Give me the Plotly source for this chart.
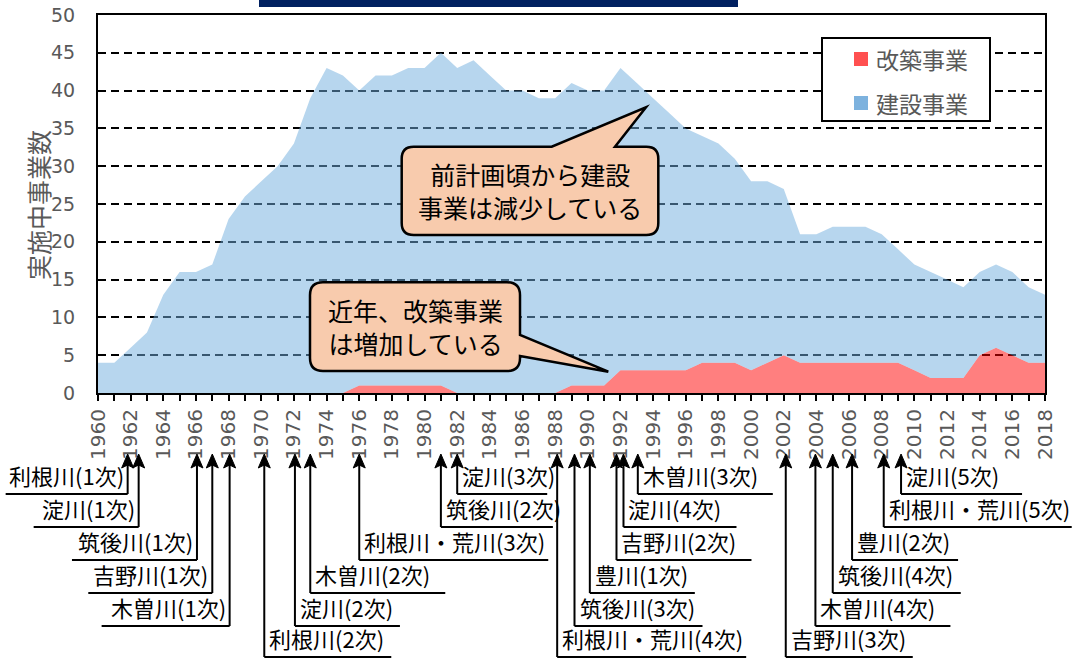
import plotly.graph_objects as go

# data
years = list(range(1960, 2019))
kaichiku = [0, 0, 0, 0, 0, 0, 0, 0, 0, 0,
            0, 0, 0, 0, 0, 0, 1, 1, 1, 1,
            1, 1, 0, 0, 0, 0, 0, 0, 0, 1,
            1, 1, 3, 3, 3, 3, 3, 4, 4, 4,
            3, 4, 5, 4, 4, 4, 4, 4, 4, 4,
            3, 2, 2, 2, 5, 6, 5, 4, 4]
kensetsu = [4, 4, 6, 8, 13, 16, 16, 17, 23, 26,
            28, 30, 33, 39, 43, 42, 39, 41, 41, 42,
            42, 44, 43, 44, 42, 40, 40, 39, 39, 40,
            39, 39, 40, 38, 36, 34, 32, 30, 29, 27,
            25, 24, 22, 17, 17, 18, 18, 18, 17, 15,
            14, 14, 13, 12, 11, 11, 11, 10, 9]

plans = ["利根川(1次)", "淀川(1次)", "筑後川(1次)", "吉野川(1次)", "木曽川(1次)",
         "利根川(2次)", "淀川(2次)", "木曽川(2次)", "利根川・荒川(3次)", "筑後川(2次)",
         "淀川(3次)", "利根川・荒川(4次)", "筑後川(3次)", "豊川(1次)", "吉野川(2次)",
         "淀川(4次)", "木曽川(3次)", "吉野川(3次)", "木曽川(4次)", "筑後川(4次)",
         "豊川(2次)", "利根川・荒川(5次)", "淀川(5次)"]
plan_years = [1962, 1962, 1966, 1967, 1968, 1970, 1972, 1973, 1976, 1981, 1982,
              1988, 1989, 1990, 1992, 1992, 1993, 2002, 2004, 2005, 2006, 2008, 2009]

# label layout (pixels)
nudge = [-3, 8, 1, 0, 1, 3, 1, 0, 0, 0, 0, 2, 3, 2, -4, 3, 1, 2, -1, 0, 3, 2, 3]
row = [0, 1, 2, 3, 4, 5, 4, 3, 2, 1, 0, 5, 4, 3, 2, 1, 0, 5, 4, 3, 2, 1, 0]
line_len = [122, 105, 125, 124, 128, 127, 105, 135, 189, 112, 90,
            189, 128, 105, 135, 113, 135, 127, 135, 128, 106, 188, 121]
row_y = [494, 527, 560, 593, 626, 657]

W, H = 1072, 659
L, R, T, B = 98, 1045, 15, 393
ppy = (R - L) / 58

def px(x):
    return (x - L) / (R - L)

def py(y):
    return (B - y) / (B - T)

def P(x, y):
    return f"{px(x):.5f},{py(y):.5f}"

FONT = "Noto Sans CJK JP"
NUM = "DejaVu Sans"
GRAY = "#595959"

fig = go.Figure()
fig.add_trace(go.Scatter(x=years, y=kaichiku, name="改築事業", stackgroup="one",
                         mode="none", fillcolor="rgba(255,0,0,0.5)"))
fig.add_trace(go.Scatter(x=years, y=kensetsu, name="建設事業", stackgroup="one",
                         mode="none", fillcolor="rgba(112,174,222,0.5)"))

shapes = []
annotations = []

# dark bar at the top
shapes.append(dict(type="rect", xref="paper", yref="paper", x0=px(259), x1=px(738),
                   y0=py(7), y1=py(0), fillcolor="#002060", line=dict(width=0)))

# legend box
shapes.append(dict(type="rect", xref="paper", yref="paper", x0=px(822), x1=px(990),
                   y0=py(121), y1=py(38), fillcolor="white", line=dict(color="black", width=2)))
for name, col, cy in [("改築事業", "#FF5050", 59), ("建設事業", "#7DB2DE", 103)]:
    shapes.append(dict(type="rect", xref="paper", yref="paper", x0=px(854), x1=px(868),
                       y0=py(cy + 7), y1=py(cy - 7), fillcolor=col, line=dict(width=0)))
    annotations.append(dict(xref="paper", yref="paper", x=px(874), y=py(cy), text=name,
                            xanchor="left", yanchor="middle", showarrow=False,
                            font=dict(family=FONT, size=23, color=GRAY)))

# callout 1
x0, y0, x1, y1, r = 401.7, 146.7, 658.3, 235, 12
path1 = ("M " + P(x0 + r, y0) + " L " + P(551.7, y0) + " L " + P(646, 107.3) + " L " + P(615, y0)
         + " L " + P(x1 - r, y0) + " Q " + P(x1, y0) + " " + P(x1, y0 + r)
         + " L " + P(x1, y1 - r) + " Q " + P(x1, y1) + " " + P(x1 - r, y1)
         + " L " + P(x0 + r, y1) + " Q " + P(x0, y1) + " " + P(x0, y1 - r)
         + " L " + P(x0, y0 + r) + " Q " + P(x0, y0) + " " + P(x0 + r, y0) + " Z")
shapes.append(dict(type="path", xref="paper", yref="paper", path=path1,
                   fillcolor="#F8CBAD", line=dict(color="black", width=2.5)))
annotations.append(dict(xref="paper", yref="paper", x=px((x0 + x1) / 2), y=py((y0 + y1) / 2),
                        xanchor="center", yanchor="middle",
                        text="前計画頃から建設<br>事業は減少している", showarrow=False,
                        font=dict(family=FONT, size=25, color="black"), align="center"))

# callout 2
x0, y0, x1, y1, r = 310, 282.3, 520, 371, 13
path2 = ("M " + P(x0 + r, y0) + " L " + P(x1 - r, y0) + " Q " + P(x1, y0) + " " + P(x1, y0 + r)
         + " L " + P(x1, 335) + " L " + P(608.3, 371.7) + " L " + P(x1, 356)
         + " L " + P(x1, y1 - r) + " Q " + P(x1, y1) + " " + P(x1 - r, y1)
         + " L " + P(x0 + r, y1) + " Q " + P(x0, y1) + " " + P(x0, y1 - r)
         + " L " + P(x0, y0 + r) + " Q " + P(x0, y0) + " " + P(x0 + r, y0) + " Z")
shapes.append(dict(type="path", xref="paper", yref="paper", path=path2,
                   fillcolor="#F8CBAD", line=dict(color="black", width=2.5)))
annotations.append(dict(xref="paper", yref="paper", x=px((x0 + x1) / 2), y=py((y0 + y1) / 2),
                        xanchor="center", yanchor="middle",
                        text="近年、改築事業<br>は増加している", showarrow=False,
                        font=dict(family=FONT, size=25, color="black"), align="center"))

# plan labels under the axis, each with an arrow up to its year
tip_y = 454
for i, name in enumerate(plans):
    ax_px = L + (plan_years[i] - 1960) * ppy + nudge[i]
    ry = row_y[row[i]]
    # stem
    shapes.append(dict(type="line", xref="paper", yref="paper", x0=px(ax_px), x1=px(ax_px),
                       y0=py(ry), y1=py(tip_y + 10), line=dict(color="black", width=2)))
    # head
    head = ("M " + P(ax_px, tip_y) + " L " + P(ax_px + 6, tip_y + 14) + " L " + P(ax_px, tip_y + 11)
            + " L " + P(ax_px - 6, tip_y + 14) + " Z")
    shapes.append(dict(type="path", xref="paper", yref="paper", path=head,
                       fillcolor="black", line=dict(color="black", width=1)))
    if i < 5:
        xe = ax_px - line_len[i]
        annotations.append(dict(xref="paper", yref="paper", x=px(ax_px - 2), y=py(ry - 1),
                                xanchor="right", yanchor="bottom", text=name, showarrow=False,
                                font=dict(family=FONT, size=22, color="black")))
    else:
        xe = ax_px + line_len[i]
        annotations.append(dict(xref="paper", yref="paper", x=px(ax_px + 3), y=py(ry - 1),
                                xanchor="left", yanchor="bottom", text=name, showarrow=False,
                                font=dict(family=FONT, size=22, color="black")))
    shapes.append(dict(type="line", xref="paper", yref="paper", x0=px(ax_px), x1=px(xe),
                       y0=py(ry), y1=py(ry), line=dict(color="black", width=2)))

# y axis title
annotations.append(dict(xref="paper", yref="paper", x=px(38), y=py(205), text="実施中事業数",
                        xanchor="center", yanchor="middle", textangle=-90, showarrow=False,
                        font=dict(family=FONT, size=25, color=GRAY)))

fig.update_layout(
    width=W, height=H,
    margin=dict(l=L, r=W - R, t=T, b=H - B, pad=0),
    paper_bgcolor="white",
    plot_bgcolor="white",
    font=dict(family=FONT, color=GRAY),
    showlegend=False,
    xaxis=dict(range=[1960, 2018], dtick=2, tick0=1960, tickangle=-90, automargin=False,
               ticks="outside", ticklen=6, tickwidth=1.5, tickcolor="black",
               minor=dict(dtick=1, ticks="outside", ticklen=6, tickwidth=1.5, tickcolor="black"),
               showgrid=False, showline=True, linecolor="black", linewidth=2, mirror=True,
               tickfont=dict(family=NUM, size=20, color=GRAY), zeroline=False),
    yaxis=dict(range=[0, 50], dtick=5, showgrid=True, gridcolor="black", gridwidth=2,
               griddash="8px,5px", showline=True, linecolor="black", linewidth=2, mirror=True,
               ticks="", ticklabelstandoff=17, zeroline=False, automargin=False,
               tickfont=dict(family=NUM, size=19, color=GRAY)),
    shapes=shapes,
    annotations=annotations,
)

fig.write_html("out.html", config={"displayModeBar": False},
               post_script="document.body.style.margin='0';document.body.style.overflow='hidden';")
